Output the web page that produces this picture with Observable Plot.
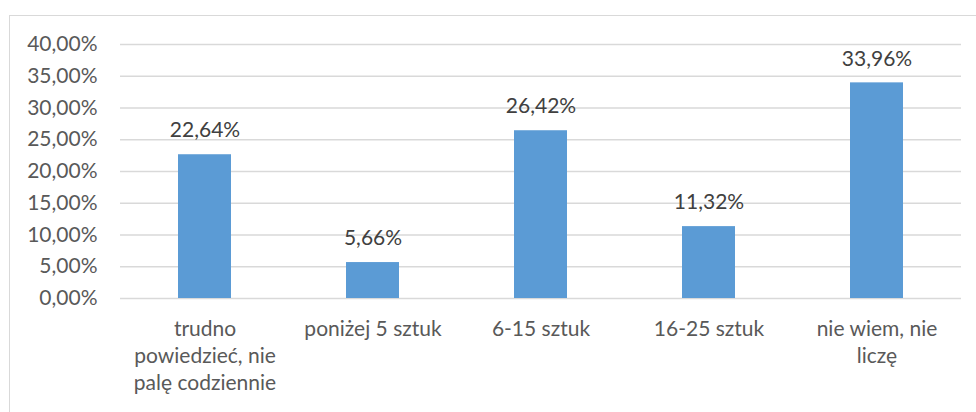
<!DOCTYPE html>
<html>
<head>
<meta charset="utf-8">
<script src="https://cdn.jsdelivr.net/npm/d3@7"></script>
<script src="https://cdn.jsdelivr.net/npm/@observablehq/plot@0.6"></script>
<style>
  html, body { margin: 0; padding: 0; background: #fff; overflow: hidden; }
  #wrap { position: relative; width: 976px; height: 412px; }
  #frame { position: absolute; left: 9px; top: 15px; width: 1000px; height: 500px; border: 1.5px solid #d9d9d9; box-sizing: border-box; }
  #chart { position: absolute; left: 0; top: 0; }
</style>
</head>
<body>
<div id="wrap"><div id="frame"></div><div id="chart"></div></div>
<script>
const categories = ["trudno powiedzieć, nie palę codziennie", "poniżej 5 sztuk", "6-15 sztuk", "16-25 sztuk", "nie wiem, nie liczę"];
const values = [0.2264, 0.0566, 0.2642, 0.1132, 0.3396];
const yTicks = [0, 0.05, 0.10, 0.15, 0.20, 0.25, 0.30, 0.35, 0.40];

const data = categories.map((c, i) => ({category: c, value: values[i]}));
const pct = v => (v * 100).toFixed(2).replace(".", ",") + "%";
const wrap = (s, max = 15) => {
  const words = s.split(" "); const lines = []; let cur = "";
  for (const w of words) {
    if (cur && (cur + " " + w).length > max) { lines.push(cur); cur = w; }
    else cur = cur ? cur + " " + w : w;
  }
  if (cur) lines.push(cur);
  return lines.join("\n");
};

const chart = Plot.plot({
  width: 976,
  height: 412,
  marginLeft: 120,
  marginRight: 15,
  marginTop: 44,
  marginBottom: 114,
  style: {fontFamily: "Lato, sans-serif", fontSize: "21px", color: "#595959", background: "transparent"},
  x: {domain: categories, paddingInner: 0.685, paddingOuter: 0.3425, label: null},
  y: {domain: [0, 0.4], label: null},
  marks: [
    Plot.ruleY(yTicks, {stroke: "#d9d9d9", strokeWidth: 1.5}),
    Plot.barY(data, {x: "category", y: "value", fill: "#5b9bd5"}),
    Plot.text(data, {x: "category", y: "value", text: d => pct(d.value), dy: -24, fill: "#404040", fontSize: 21}),
    Plot.axisY({ticks: yTicks, tickFormat: pct, tickSize: 0, tickPadding: 23, fill: "#595959", fontSize: 21, label: null}),
    Plot.axisX({tickSize: 0, tickPadding: 18, tickFormat: d => wrap(d), lineHeight: 1.3, fill: "#595959", fontSize: 21, label: null, lineAnchor: "top"})
  ]
});
document.getElementById("chart").appendChild(chart);
</script>
</body>
</html>
